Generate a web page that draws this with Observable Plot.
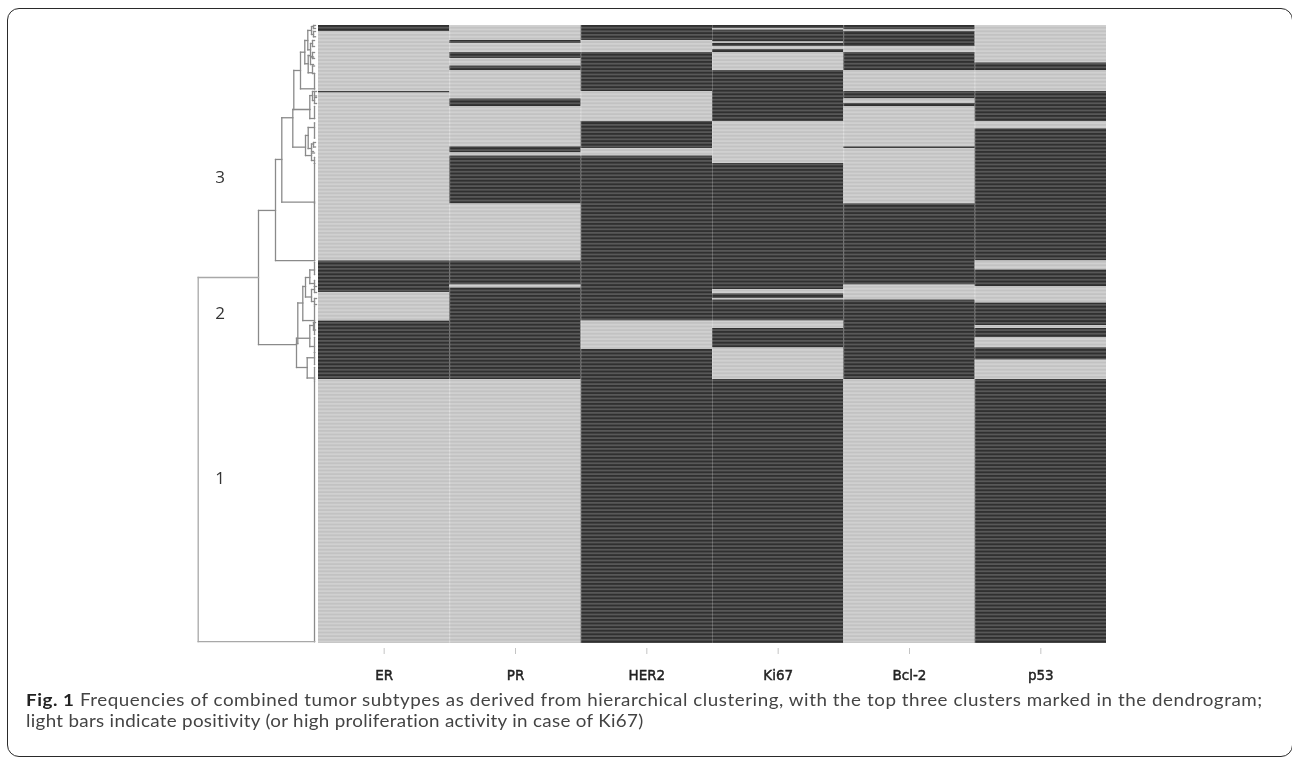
<!DOCTYPE html>
<html>
<head>
<meta charset="utf-8">
<script src="https://cdn.jsdelivr.net/npm/d3@7"></script>
<script src="https://cdn.jsdelivr.net/npm/@observablehq/plot@0.6"></script>
<style>
html,body{margin:0;padding:0;background:#fff;width:1292px;height:757px;overflow:hidden;position:relative}
#frame{position:absolute;left:7px;top:8px;width:1284px;height:747px;border:1.5px solid #2a2a2a;border-radius:12px;pointer-events:none}
#chart svg{display:block;filter:blur(.35px)}
#chart g[aria-label="x-axis tick label"] text{stroke:#222;stroke-width:.45}
#caption{font-family:Lato,sans-serif;font-size:17.4px;line-height:21px;color:#444;padding-left:26px;white-space:nowrap;margin-top:-1px;transform:scaleX(1.08);transform-origin:26px 0}
#caption b{color:#222}
#line1{letter-spacing:.51px}
#line2{letter-spacing:.29px}
</style>
</head>
<body>
<div id="chart"></div>
<div id="caption"><span id="line1"><b>Fig. 1</b> Frequencies of combined tumor subtypes as derived from hierarchical clustering, with the top three clusters marked in the dendrogram;</span><br><span id="line2">light bars indicate positivity (or high proliferation activity in case of Ki67)</span></div>
<div id="frame"></div>
<script>
const markers = ["ER", "PR", "HER2", "Ki67", "Bcl-2", "p53"];
const rowCount = 412;
// runs of rows (top to bottom) that are dark, i.e. negative, per marker
const erDark = [[0,4],[44,45],[157,178],[197,236]];
const prDark = [[10,12],[18,22],[27,30],[49,54],[81,85],[87,119],[157,173],[175,236]];
const her2Dark = [[0,10],[18,44],[64,82],[87,197],[216,412]];
const ki67Dark = [[0,2],[3,11],[12,14],[16,18],[30,64],[92,176],[179,182],[183,197],[202,215],[236,412]];
const bcl2Dark = [[0,3],[4,14],[18,30],[44,49],[52,54],[81,82],[119,173],[183,236]];
const p53Dark = [[25,30],[44,64],[69,157],[163,174],[185,200],[202,208],[215,223],[236,412]];
const darkRuns = [erDark, prDark, her2Dark, ki67Dark, bcl2Dark, p53Dark];

// dendrogram merges: [height, top row, bottom row, height of top child, height of bottom child]
const rootMerge = [[120.3,168,410.7,60,4]];
const merges = [
 [60,123.3,212.7,43,22],[43,89.3,156.7,36.7,4],[36.7,61.5,117.8,25.7,4],
 [25.7,56,81.1,8.7,13],[24.7,30,56,18,8.7],[18,17.8,42.2,13.7,4],
 [13.7,10,25.5,10.7,10.3],[10.7,3.3,16.2,7,8],[7,.7,6,5,5],[5,0,2,3,3],[5,4,7.5,3,3],
 [8,12,20.7,6,6],[6,10,14,4,4],[6,18,22,4,4],[10.3,20,31.5,8,6],[8,21,26,5,5],[6,27,32,4,4],
 [4,32,42.2,4,4],[8.7,46.7,62,6,4],[6,44,50,4,4],[4,54,62,4,4],[4,44,47,2,2],[4,48,52,2,2],
 [13,73.3,86.7,10.3,7],[10.3,68,82,4,7],[4,65,75,4,4],[7,79,84,5,5],[7,85,90,4,4],[5,78,81,3,3],
 [4,88,92,4,4],[4,92,117.8,4,4],[4,118.7,156.7,4,4],
 [22,208.5,228,8.7,11.3],[20.7,185,212,15.7,22],[15.7,174,196.7,13,4],[13,168,181,8.7,7],
 [8.7,163,172,4,4],[7,176,184,4,4],[4,174,178,2,2],[4,182,186,2,2],[4,158,166,4,4],[4,170,174,4,4],
 [4,187,206,4,4],[8.7,200,214,5,4],[5,198,203,3,3],[4,208,218,4,4],
 [11.3,221.5,235,4,4],[4,218,226,4,4],[4,228,236,4,4],[4,237,410.7,4,4]
];
const clusterNames = ["3", "2", "1"];
const clusterRows = [101.3, 192, 302];
const clusterHeight = 98.5;
const heightPerColumn = 131.33;
const stripePeriod = 2.4; // rows per visible stripe pair

// split each column into dark and light runs, then stripes clipped to each run
const runs = [], stripes = [];
markers.forEach((m, c) => {
  let at = 0;
  const add = (a, b, kind) => {
    if (b <= a) return;
    runs.push({c, a, b, tone: kind + "A"});
    for (let r = Math.floor(a / stripePeriod) * stripePeriod; r < b; r += stripePeriod) {
      const s1 = Math.max(r + stripePeriod / 2, a), s2 = Math.min(r + stripePeriod, b);
      if (s2 > s1) stripes.push({c, a: s1, b: s2, tone: kind + "B"});
    }
  };
  for (const [a, b] of darkRuns[c]) { add(at, a, "light"); add(a, b, "dark"); at = b; }
  add(at, rowCount, "light");
});
const toX = h => -h / heightPerColumn;
const segments = rows => rows.flatMap(([h, a, b, ha, hb]) => [
  {x1: toX(h), x2: toX(h), y1: a, y2: b},
  {x1: toX(h), x2: toX(ha), y1: a, y2: a},
  {x1: toX(h), x2: toX(hb), y1: b, y2: b}
]);
const linkOpts = {x1: "x1", x2: "x2", y1: "y1", y2: "y2", strokeLinecap: "square"};
const rectOpts = {x1: "c", x2: d => d.c + 1, y1: "a", y2: "b", fill: "tone"};

const plot = Plot.plot({
  width: 1292, height: 690,
  marginTop: 0, marginLeft: 0, marginRight: 0, marginBottom: 42,
  x: {domain: [-1, 6], range: [186.67, 1106], axis: null},
  y: {domain: [0, rowCount], range: [25, 643], axis: null},
  color: {domain: ["darkA", "darkB", "lightA", "lightB"], range: ["#303030", "#585858", "#d0d0d0", "#c2c2c2"]},
  marks: [
    Plot.rect(runs, rectOpts),
    Plot.rect(stripes, rectOpts),
    Plot.ruleX(d3.range(1, markers.length), {stroke: "#fff", strokeOpacity: 0.2, y1: 0, y2: rowCount}),
    Plot.link(segments(merges), {...linkOpts, stroke: "#8a8a8a", strokeWidth: 1.3}),
    Plot.link(segments(rootMerge), {...linkOpts, stroke: "#a8a8a8", strokeWidth: 1.3}),
    Plot.text(clusterNames, {
      x: toX(clusterHeight), y: (d, i) => clusterRows[i], text: d => d,
      fontFamily: "Open Sans", fontSize: 17, fill: "#333"
    }),
    Plot.axisX({
      ticks: markers.map((m, i) => i + 0.5),
      tickFormat: d => markers[d - 0.5],
      tickSize: 6, tickPadding: 16, stroke: "#c4c4c4", color: "#222",
      fontSize: 13.5, fontFamily: "DejaVu Sans", label: null
    })
  ]
});
document.getElementById("chart").appendChild(plot);
</script>
</body>
</html>
